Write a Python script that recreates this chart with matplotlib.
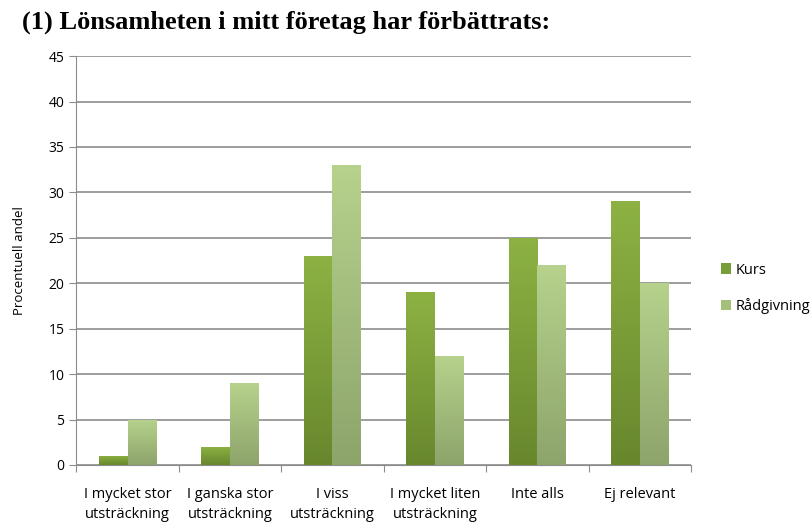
import numpy as np
import matplotlib.pyplot as plt
from matplotlib.colors import LinearSegmentedColormap
from matplotlib.patches import Patch

# data
categories = ['I mycket stor\nutsträckning', 'I ganska stor\nutsträckning', 'I viss\nutsträckning',
              'I mycket liten\nutsträckning', 'Inte alls', 'Ej relevant']
kurs = [1, 2, 23, 19, 25, 29]
radgivning = [5, 9, 33, 12, 22, 20]
series_names = ['Kurs', 'Rådgivning']
yticks = [0, 5, 10, 15, 20, 25, 30, 35, 40, 45]


def gradient_bars(ax, bars, top_col, bottom_col):
    cmap = LinearSegmentedColormap.from_list('g', [bottom_col, top_col])
    grad = np.linspace(0, 1, 256).reshape(-1, 1)
    for b in bars:
        x, y = b.get_x(), b.get_y()
        w, h = b.get_width(), b.get_height()
        b.set_facecolor('none')
        b.set_edgecolor('none')
        im = ax.imshow(grad, extent=[x, x + w, y, y + h], origin='lower', cmap=cmap,
                       aspect='auto', zorder=3)
        im.set_clip_path(b)


fig = plt.figure(figsize=(8.12, 5.29), dpi=100)
ax = fig.add_axes([0.094, 0.121, 0.757, 0.773])

x = np.arange(len(categories))
w = 0.28
b1 = ax.bar(x - w / 2, kurs, w, zorder=3)
b2 = ax.bar(x + w / 2, radgivning, w, zorder=3)
gradient_bars(ax, b1, '#8DB243', '#68872D')
gradient_bars(ax, b2, '#B6D28C', '#8DA46B')

ax.set_xlim(-0.5, len(categories) - 0.5)
ax.set_ylim(0, 45)
ax.set_yticks(yticks)
ax.yaxis.grid(True, color='#8C8C8C', lw=1.2, zorder=0)
ax.set_axisbelow(True)

ax.set_xticks(np.arange(len(categories) + 1) - 0.5, minor=False)
ax.set_xticklabels([])
ax.set_xticks(x, minor=True)
ax.set_xticklabels(categories, minor=True, fontsize=10.5, family='Open Sans', linespacing=1.45)
ax.tick_params(axis='x', which='minor', length=0, pad=16)
ax.tick_params(axis='x', which='major', length=5, color='#8C8C8C')
ax.tick_params(axis='y', length=5, color='#8C8C8C', labelsize=10)
for lbl in ax.get_yticklabels():
    lbl.set_family('Open Sans')

for s in ['top', 'right']:
    ax.spines[s].set_visible(False)
ax.spines['left'].set_color('#8C8C8C')
ax.spines['bottom'].set_color('#8C8C8C')

ax.set_ylabel('Procentuell andel', fontsize=9.5, family='Open Sans', labelpad=16)

fig.text(0.027, 0.957, '(1) Lönsamheten i mitt företag har förbättrats:', fontsize=19,
         fontweight='bold', family='Liberation Serif', va='center')

handles = [Patch(facecolor='#7A9E37', label=series_names[0]),
           Patch(facecolor='#A3BF7A', label=series_names[1])]
fig.legend(handles=handles, loc='center left', bbox_to_anchor=(0.872, 0.455), frameon=False,
           prop={'family': 'Open Sans', 'size': 10.5}, handlelength=0.7, handleheight=0.7,
           handletextpad=0.3, labelspacing=1.4)

fig.savefig('out.png', dpi=100)
